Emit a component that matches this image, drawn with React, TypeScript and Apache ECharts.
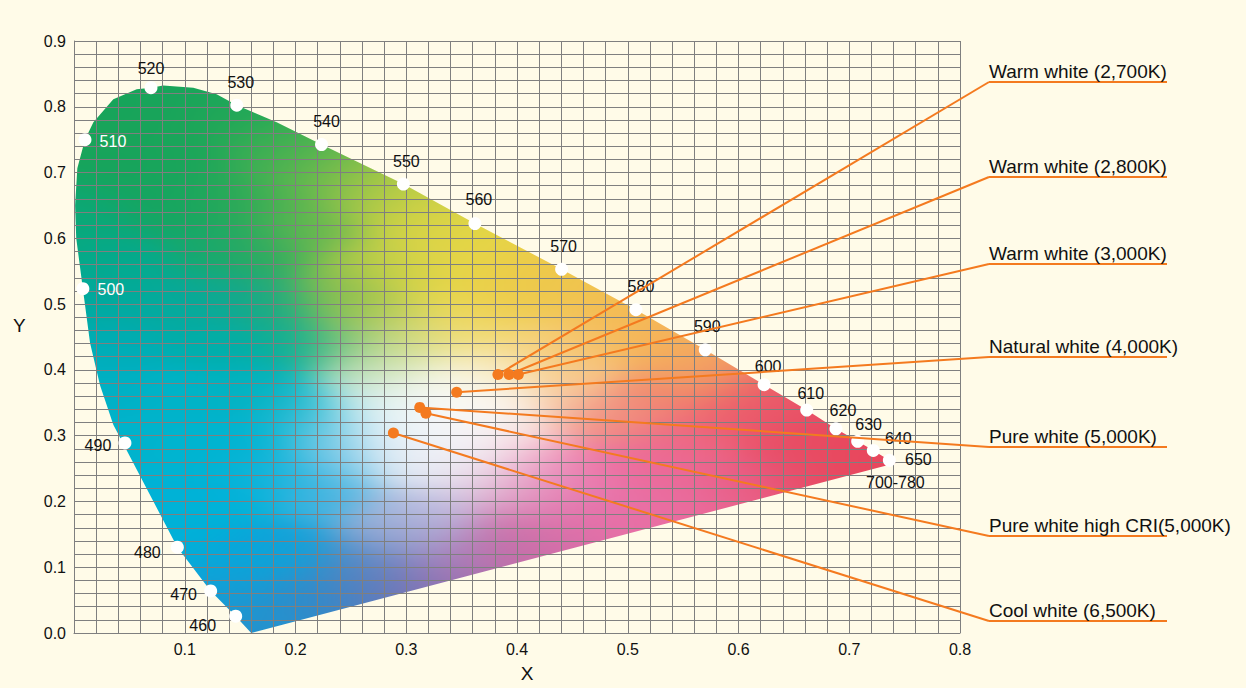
import React, { useEffect, useRef } from 'react';
import * as echarts from 'echarts';

const FONT = '"Liberation Sans", Arial, Helvetica, sans-serif';

// Outline of the colour area (spectral locus + purple line)
const LOCUS_X = [0.160, 0.146, 0.1234, 0.0933, 0.0355, 0.0235, 0.0145, 0.008, 0.002, 0.001, 0.003, 0.0099,
  0.0175, 0.0355, 0.0566, 0.0695, 0.0806, 0.1077, 0.1288, 0.147, 0.183, 0.213, 0.2235, 0.2974, 0.362,
  0.4403, 0.5074, 0.570, 0.6231, 0.6616, 0.688, 0.7076, 0.7217, 0.7362, 0.743];
const LOCUS_Y = [0.000, 0.0255, 0.064, 0.1305, 0.3165, 0.3765, 0.441, 0.5235, 0.600, 0.650, 0.7065, 0.750,
  0.7765, 0.8115, 0.8265, 0.829, 0.8325, 0.829, 0.819, 0.8025, 0.7765, 0.7515, 0.7425, 0.6825, 0.6225,
  0.553, 0.4915, 0.4305, 0.3775, 0.339, 0.3105, 0.2915, 0.2775, 0.2625, 0.259];

// Wavelength marks (nm)
const WL_LABELS = ['460', '470', '480', '490', '500', '510', '520', '530', '540', '550', '560', '570',
  '580', '590', '600', '610', '620', '630', '640', '650'];
const WL_X = [0.146, 0.1234, 0.0933, 0.046, 0.008, 0.0099, 0.0695, 0.147, 0.2235, 0.2974, 0.362, 0.4403,
  0.5074, 0.570, 0.6231, 0.6616, 0.688, 0.7076, 0.7217, 0.7362];
const WL_Y = [0.0255, 0.064, 0.1305, 0.289, 0.5235, 0.750, 0.829, 0.8025, 0.7425, 0.6825, 0.6225, 0.553,
  0.4915, 0.4305, 0.3775, 0.339, 0.3105, 0.2915, 0.2775, 0.2625];
const WL_TAIL_LABEL = '700-780';

// White-light sources
const SRC_NAMES = ['Warm white (2,700K)', 'Warm white (2,800K)', 'Warm white (3,000K)',
  'Natural white (4,000K)', 'Pure white (5,000K)', 'Pure white high CRI(5,000K)', 'Cool white (6,500K)'];
const SRC_X = [0.3828, 0.3928, 0.4012, 0.3455, 0.3122, 0.3178, 0.2884];
const SRC_Y = [0.393, 0.393, 0.393, 0.366, 0.343, 0.334, 0.304];

// ---- layout / style ----
const ORANGE = '#f47a1f';
const GRID_COLOR = '#7f7f7f';
const CALLOUT_X0 = 989;
const CALLOUT_X1 = 1167;
const CALLOUT_ROW_Y = [82, 177, 264, 357, 447, 536, 621];
const WL_LABEL_OFFSET: [number, number][] = [[-33, 9], [-27, 4], [-30, 5], [-27, 3], [28, 1], [28, 2],
  [0, -19], [4, -23], [5, -23], [3, -23], [4, -24], [2, -23], [5, -23], [2, -23], [4, -18], [4, -17],
  [7, -18], [11, -17], [25, -12], [29, -1]];
const WL_LABEL_WHITE = ['500', '510'];
const WL_TAIL_OFFSET: [number, number] = [6, 22];

// Colour map of the diagram (sampled tints), used to paint the fill
const TINTS: [number, number, string][] = [
  [0.01, 0.76, '#18a45a'], [0.05, 0.80, '#17a45a'], [0.09, 0.81, '#18a45a'], [0.14, 0.79, '#20a758'],
  [0.04, 0.70, '#17a45b'], [0.10, 0.73, '#19a55a'], [0.17, 0.74, '#34ad54'], [0.20, 0.72, '#52b350'],
  [0.08, 0.65, '#16a560'], [0.14, 0.66, '#22a85a'], [0.19, 0.66, '#48b152'], [0.23, 0.69, '#7abd4b'],
  [0.26, 0.67, '#a2c648'], [0.29, 0.65, '#c4cf45'], [0.22, 0.61, '#6ab84f'], [0.17, 0.58, '#30ab5e'],
  [0.12, 0.58, '#16a86c'],
  [0.01, 0.64, '#0ba876'], [0.02, 0.58, '#06a984'], [0.05, 0.55, '#03aa92'], [0.02, 0.51, '#00a9a0'],
  [0.08, 0.50, '#04aa9e'], [0.13, 0.51, '#0ca894'], [0.18, 0.50, '#22aa7c'], [0.20, 0.44, '#0aae98'],
  [0.13, 0.44, '#00aeaa'], [0.04, 0.44, '#00acb4'], [0.24, 0.52, '#78ba50'], [0.245, 0.44, '#5cb870'],
  [0.03, 0.38, '#00b0c4'], [0.045, 0.30, '#00b3cb'], [0.10, 0.36, '#00b3c8'], [0.16, 0.37, '#02b2c0'],
  [0.10, 0.28, '#00b4d0'], [0.16, 0.29, '#00b4d2'], [0.21, 0.34, '#1cb8d0'], [0.08, 0.20, '#00b2d6'],
  [0.14, 0.21, '#00b2d8'], [0.19, 0.24, '#18b4dc'], [0.235, 0.30, '#6ec6e4'], [0.245, 0.26, '#80c8e8'],
  [0.23, 0.21, '#40b2e0'], [0.09, 0.14, '#00b0d8'],
  [0.12, 0.07, '#10a2d8'], [0.145, 0.035, '#1898d2'], [0.16, 0.01, '#2890cc'], [0.16, 0.11, '#06a6da'],
  [0.20, 0.12, '#14a0d8'], [0.20, 0.05, '#2a8ecc'], [0.23, 0.06, '#3a86c6'], [0.26, 0.10, '#4a8cc8'],
  [0.27, 0.07, '#6078b8'], [0.30, 0.08, '#8474b4'], [0.29, 0.14, '#8aa0d0'], [0.29, 0.18, '#a8b8dc'],
  [0.33, 0.14, '#b0a0d0'], [0.33, 0.19, '#c8c2e2'], [0.34, 0.09, '#9c70b0'], [0.37, 0.12, '#b872ae'],
  [0.40, 0.16, '#d070a8'], [0.40, 0.12, '#c46ea8'], [0.44, 0.14, '#dc6ea8'], [0.45, 0.19, '#e46ea8'],
  [0.50, 0.18, '#e870a6'], [0.55, 0.20, '#ea6c9e'], [0.60, 0.22, '#e96088'], [0.65, 0.24, '#e8506e'],
  [0.70, 0.25, '#e8485e'],
  [0.47, 0.25, '#ec70a6'], [0.52, 0.26, '#ec6a9a'], [0.55, 0.29, '#ec6688'], [0.42, 0.26, '#f0a4c6'],
  [0.44, 0.22, '#e88cbc'], [0.37, 0.24, '#e8d0e2'], [0.40, 0.21, '#e0a8cc'], [0.58, 0.33, '#ee6470'],
  [0.62, 0.33, '#e9526a'], [0.66, 0.30, '#e84c62'], [0.70, 0.28, '#e8485e'], [0.735, 0.262, '#e8445a'],
  [0.62, 0.36, '#ea5a68'],
  [0.50, 0.33, '#f08a7e'], [0.47, 0.33, '#f29482'], [0.53, 0.36, '#f1866e'], [0.58, 0.39, '#f29c66'],
  [0.55, 0.41, '#f4aa5e'], [0.52, 0.44, '#f5b458'], [0.48, 0.47, '#f4bc52'], [0.43, 0.52, '#f0c44e'],
  [0.39, 0.54, '#ebcd48'], [0.39, 0.50, '#eccc4a'], [0.35, 0.58, '#e6d646'], [0.34, 0.52, '#e8d848'],
  [0.32, 0.62, '#dcd446'], [0.30, 0.55, '#d6d348'], [0.27, 0.56, '#b8cc48'], [0.26, 0.49, '#a6c64e'],
  [0.29, 0.47, '#c8d060'], [0.30, 0.43, '#d8e090'], [0.34, 0.46, '#ecdc6c'], [0.37, 0.46, '#f2d868'],
  [0.36, 0.41, '#f8ecc0'], [0.40, 0.40, '#f7e0a8'], [0.42, 0.44, '#f6d078'], [0.45, 0.40, '#f6c888'],
  [0.44, 0.36, '#f8d0a8'], [0.46, 0.43, '#f6c26c'],
  [0.32, 0.33, '#f6f9fa'], [0.29, 0.31, '#eef5f9'], [0.34, 0.30, '#f4f6fa'], [0.37, 0.34, '#f9f8f5'],
  [0.30, 0.36, '#f2f8f4'], [0.33, 0.38, '#f8f9f0'], [0.27, 0.34, '#d4ecf2'], [0.31, 0.26, '#e2e8f2'],
  [0.36, 0.28, '#f4eaf0'], [0.40, 0.31, '#f9eae6'], [0.27, 0.39, '#c8e4cc'], [0.28, 0.42, '#cce0a8'],
  [0.35, 0.35, '#fafaf8'], [0.38, 0.37, '#fbf7ee'], [0.33, 0.27, '#f0f2f8'], [0.29, 0.28, '#e6eff7'],
];

const X_MAX = 0.8;
const Y_MAX = 0.9;

// low-resolution colour field over the whole plot (data space)
function buildField(w: number, h: number): HTMLCanvasElement {
  const canvas = document.createElement('canvas');
  canvas.width = w;
  canvas.height = h;
  const ctx = canvas.getContext('2d')!;
  const img = ctx.createImageData(w, h);
  const n = TINTS.length;
  const ax = new Float64Array(n), ay = new Float64Array(n);
  const cr = new Float64Array(n), cg = new Float64Array(n), cb = new Float64Array(n);
  TINTS.forEach(([x, y, c], i) => {
    ax[i] = x; ay[i] = y;
    cr[i] = parseInt(c.slice(1, 3), 16);
    cg[i] = parseInt(c.slice(3, 5), 16);
    cb[i] = parseInt(c.slice(5, 7), 16);
  });
  const sigma = 0.03;
  const k = 1 / (2 * sigma * sigma);
  const d2 = new Float64Array(n);
  for (let j = 0; j < h; j++) {
    const y = Y_MAX * (1 - (j + 0.5) / h);
    for (let i = 0; i < w; i++) {
      const x = X_MAX * (i + 0.5) / w;
      let m = Infinity;
      for (let t = 0; t < n; t++) {
        const dx = x - ax[t], dy = y - ay[t];
        const v = dx * dx + dy * dy;
        d2[t] = v;
        if (v < m) m = v;
      }
      let sw = 0, r = 0, g = 0, b = 0;
      for (let t = 0; t < n; t++) {
        const wt = Math.exp(-(d2[t] - m) * k);
        sw += wt; r += wt * cr[t]; g += wt * cg[t]; b += wt * cb[t];
      }
      const p = (j * w + i) * 4;
      img.data[p] = r / sw;
      img.data[p + 1] = g / sw;
      img.data[p + 2] = b / sw;
      img.data[p + 3] = 255;
    }
  }
  ctx.putImageData(img, 0, 0);
  return canvas;
}

export default function App() {
  const ref = useRef<HTMLDivElement>(null);

  useEffect(() => {
    const el = ref.current;
    if (!el) return;
    const chart = echarts.init(el, null, { renderer: 'svg' });
    const field = buildField(400, 300);
    let cache: { key: string; url: string } | null = null;

    const paintArea = (o: number[], e: number[], pts: number[][]) => {
      const w = Math.round(e[0] - o[0]);
      const h = Math.round(e[1] - o[1]);
      const key = `${o[0]},${o[1]},${w},${h}`;
      if (cache && cache.key === key) return cache.url;
      const c = document.createElement('canvas');
      c.width = w;
      c.height = h;
      const ctx = c.getContext('2d')!;
      ctx.beginPath();
      pts.forEach((p, i) => {
        const x = p[0] - o[0], y = p[1] - o[1];
        if (i === 0) ctx.moveTo(x, y); else ctx.lineTo(x, y);
      });
      ctx.closePath();
      ctx.clip();
      ctx.imageSmoothingEnabled = true;
      ctx.imageSmoothingQuality = 'high';
      ctx.drawImage(field, 0, 0, w, h);
      cache = { key, url: c.toDataURL('image/png') };
      return cache.url;
    };

    const wlData: any[] = WL_LABELS.map((lab, i) => ({
      value: [WL_X[i], WL_Y[i]],
      name: lab,
      label: {
        offset: WL_LABEL_OFFSET[i],
        color: WL_LABEL_WHITE.includes(lab) ? '#ffffff' : '#111111',
      },
    }));
    const last = WL_LABELS.length - 1;
    wlData.push({
      value: [WL_X[last], WL_Y[last]],
      name: WL_TAIL_LABEL,
      symbolSize: 0,
      label: { offset: WL_TAIL_OFFSET, color: '#111111' },
    });

    const axisCommon = {
      type: 'value' as const,
      interval: 0.1,
      z: 3,
      axisLine: { show: true, lineStyle: { color: GRID_COLOR, width: 1 } },
      axisTick: { show: false },
      splitLine: { show: true, lineStyle: { color: GRID_COLOR, width: 1 } },
      minorTick: { show: false, splitNumber: 5 },
      minorSplitLine: { show: true, lineStyle: { color: GRID_COLOR, width: 1 } },
    };

    chart.setOption({
      animation: false,
      backgroundColor: '#fffbe8',
      textStyle: { fontFamily: FONT },
      grid: { left: 74, right: 286, top: 41, bottom: 47, containLabel: false },
      graphic: [
        {
          type: 'text',
          left: 13,
          top: 316,
          style: { text: 'Y', fontSize: 19, fill: '#111111', fontFamily: FONT },
        },
      ],
      xAxis: {
        ...axisCommon,
        min: 0,
        max: X_MAX,
        name: 'X',
        nameLocation: 'middle',
        nameGap: 31,
        nameTextStyle: { fontSize: 19, color: '#111', fontFamily: FONT, padding: [0, 0, 0, 20] },
        axisLabel: {
          color: '#111', fontSize: 16, margin: 8, fontFamily: FONT,
          formatter: (v: number) => (v === 0 ? '' : v.toFixed(1)),
        },
      },
      yAxis: {
        ...axisCommon,
        min: 0,
        max: Y_MAX,
        axisLabel: {
          color: '#111', fontSize: 16, margin: 8, fontFamily: FONT,
          formatter: (v: number) => v.toFixed(1),
        },
      },
      series: [
        {
          type: 'custom',
          z: 1,
          silent: true,
          data: [[0, 0]],
          renderItem: (_params: any, api: any) => {
            const pts = LOCUS_X.map((x, i) => api.coord([x, LOCUS_Y[i]]));
            const o = api.coord([0, Y_MAX]);
            const e = api.coord([X_MAX, 0]);
            const url = paintArea(o, e, pts);
            return {
              type: 'image',
              style: {
                image: url,
                x: o[0],
                y: o[1],
                width: e[0] - o[0],
                height: e[1] - o[1],
              },
            };
          },
        },
        {
          type: 'scatter',
          z: 5,
          silent: true,
          symbol: 'circle',
          symbolSize: 13,
          itemStyle: { color: '#ffffff', opacity: 1 },
          label: {
            show: true,
            position: 'inside',
            formatter: (p: any) => p.name,
            fontSize: 16,
            fontFamily: FONT,
          },
          data: wlData,
        },
        {
          type: 'custom',
          z: 6,
          silent: true,
          data: SRC_X.map((x, i) => [x, SRC_Y[i]]),
          renderItem: (params: any, api: any) => {
            const i = params.dataIndex;
            const p = api.coord([api.value(0), api.value(1)]);
            const ry = CALLOUT_ROW_Y[i];
            return {
              type: 'group',
              children: [
                {
                  type: 'line',
                  shape: { x1: p[0], y1: p[1], x2: CALLOUT_X0, y2: ry },
                  style: { stroke: ORANGE, lineWidth: 2 },
                },
                {
                  type: 'line',
                  shape: { x1: CALLOUT_X0, y1: ry, x2: CALLOUT_X1, y2: ry },
                  style: { stroke: ORANGE, lineWidth: 2 },
                },
                {
                  type: 'text',
                  x: CALLOUT_X0,
                  y: ry - 11,
                  style: {
                    text: SRC_NAMES[i],
                    fill: '#111111',
                    fontSize: 19,
                    fontFamily: FONT,
                    align: 'left',
                    verticalAlign: 'middle',
                  },
                },
              ],
            };
          },
        },
        {
          type: 'scatter',
          z: 8,
          silent: true,
          symbol: 'circle',
          symbolSize: 11,
          itemStyle: { color: ORANGE, opacity: 1 },
          data: SRC_X.map((x, i) => [x, SRC_Y[i]]),
        },
      ],
    });

    return () => chart.dispose();
  }, []);

  return (
    <div
      ref={ref}
      style={{ position: 'fixed', left: 0, top: 0, width: 1246, height: 688 }}
    />
  );
}
